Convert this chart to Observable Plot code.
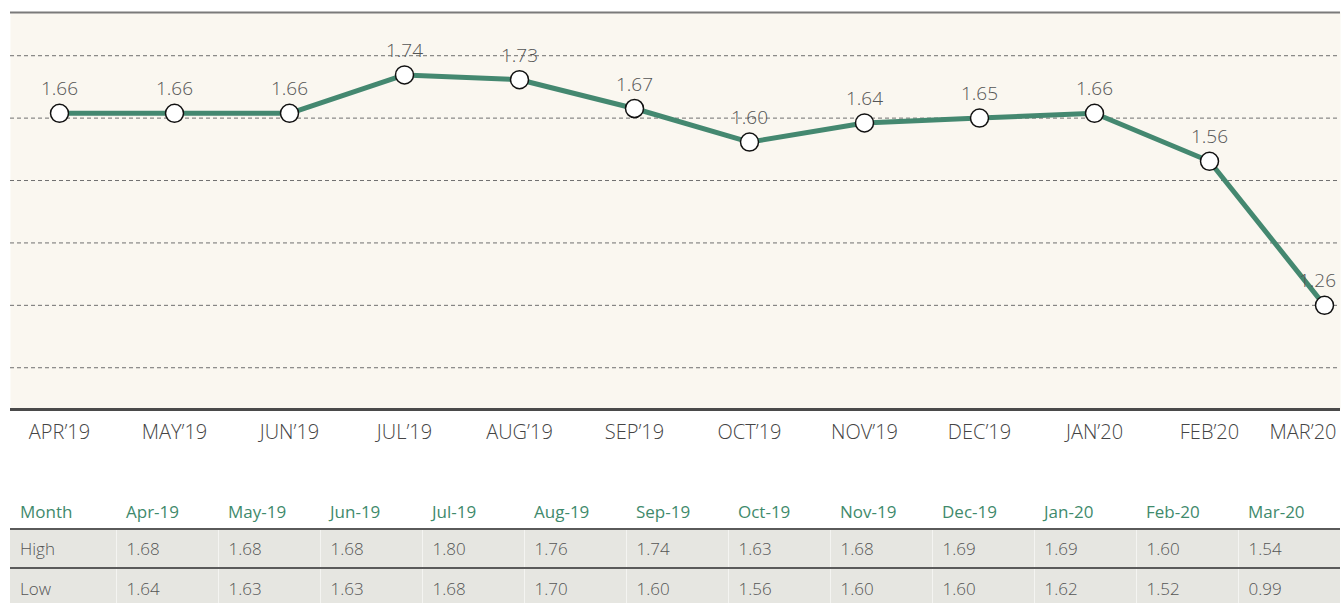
<!DOCTYPE html>
<html>
<head>
<meta charset="utf-8">
<script src="https://cdn.jsdelivr.net/npm/d3@7"></script>
<script src="https://cdn.jsdelivr.net/npm/@observablehq/plot@0.6"></script>
<style>
  html, body { margin: 0; padding: 0; background: #ffffff; }
  body { width: 1343px; height: 603px; overflow: hidden; font-family: "Open Sans", sans-serif; }
  #chart svg { display: block; }
  table { border-collapse: collapse; margin-left: 10px; margin-top: 35px; width: 1330px; table-layout: fixed; font-family: "Open Sans", sans-serif; font-weight: 300; font-size: 17px; }
  th { color: #3f8a6c; font-weight: 400; text-align: left; height: 33px; padding: 0 0 0 10px; }
  td { color: #555; text-align: left; padding: 0 0 0 10px; background: #e6e6e1; border-left: 1px solid #f4f4f1; }
  td:first-child { border-left: none; }
  tr.high td { height: 37px; border-top: 2px solid #5a5a5a; border-bottom: 2px solid #5a5a5a; }
  tr.low td { height: 38px; }
</style>
</head>
<body>
<div id="chart"></div>
<div id="table"></div>
<script>
// ---- data ----
const months = ["APR’19","MAY’19","JUN’19","JUL’19","AUG’19","SEP’19","OCT’19","NOV’19","DEC’19","JAN’20","FEB’20","MAR’20"];
const closeValues = [1.66, 1.66, 1.66, 1.74, 1.73, 1.67, 1.60, 1.64, 1.65, 1.66, 1.56, 1.26];
const gridValues = [1.13, 1.26, 1.39, 1.52, 1.65, 1.78];
const yDomain = [1.043, 1.870];

const tableMonths = ["Apr-19","May-19","Jun-19","Jul-19","Aug-19","Sep-19","Oct-19","Nov-19","Dec-19","Jan-20","Feb-20","Mar-20"];
const highValues = ["1.68","1.68","1.68","1.80","1.76","1.74","1.63","1.68","1.69","1.69","1.60","1.54"];
const lowValues  = ["1.64","1.63","1.63","1.68","1.70","1.60","1.56","1.60","1.60","1.62","1.52","0.99"];

const data = months.map((m, i) => ({month: m, value: closeValues[i]}));
const green = "#448870";

const chart = Plot.plot({
  width: 1343,
  height: 460,
  marginLeft: 10,
  marginRight: 3,
  marginTop: 12,
  marginBottom: 51,
  style: {fontFamily: "'Open Sans', sans-serif", fontWeight: 300, background: "white"},
  x: {type: "point", domain: months, range: [58, 1325], padding: 0, axis: null},
  y: {domain: yDomain, axis: null},
  marks: [
    Plot.frame({fill: "#faf7f0", stroke: null}),
    Plot.ruleY(gridValues, {stroke: "#6f6f6f", strokeWidth: 1, strokeDasharray: "4,3"}),
    Plot.ruleY([yDomain[1]], {stroke: "#7a7a7a", strokeWidth: 2}),
    Plot.ruleY([yDomain[0]], {stroke: "#4a4a4a", strokeWidth: 3}),
    Plot.line(data, {x: "month", y: "value", stroke: green, strokeWidth: 5}),
    Plot.dot(data, {x: "month", y: "value", r: 9, fill: "white", stroke: "#111", strokeWidth: 1.5}),
    Plot.text(data.slice(0, -1), {x: "month", y: "value", text: d => d.value.toFixed(2), dy: -24, fontSize: 19, fill: "#555"}),
    Plot.text(data.slice(-1), {x: "month", y: "value", text: d => d.value.toFixed(2), dy: -24, dx: -7, fontSize: 19, fill: "#555"}),
    Plot.text(months.slice(0, -1), {x: d => d, frameAnchor: "bottom", dy: 29, fontSize: 20, fill: "#444"}),
    Plot.text(months.slice(-1), {x: d => d, frameAnchor: "bottom", dy: 29, dx: 12, textAnchor: "end", fontSize: 20, fill: "#444"})
  ]
});
document.getElementById("chart").appendChild(chart);

// ---- table ----
const table = document.createElement("table");
const colgroup = document.createElement("colgroup");
const c0 = document.createElement("col"); c0.style.width = "106px"; colgroup.appendChild(c0);
tableMonths.forEach(() => { const c = document.createElement("col"); c.style.width = "102px"; colgroup.appendChild(c); });
table.appendChild(colgroup);
const head = document.createElement("tr");
["Month", ...tableMonths].forEach(t => { const th = document.createElement("th"); th.textContent = t; head.appendChild(th); });
table.appendChild(head);
[["High", highValues, "high"], ["Low", lowValues, "low"]].forEach(([label, vals, cls]) => {
  const tr = document.createElement("tr");
  tr.className = cls;
  [label, ...vals].forEach(t => { const td = document.createElement("td"); td.textContent = t; tr.appendChild(td); });
  table.appendChild(tr);
});
document.getElementById("table").appendChild(table);
</script>
</body>
</html>
